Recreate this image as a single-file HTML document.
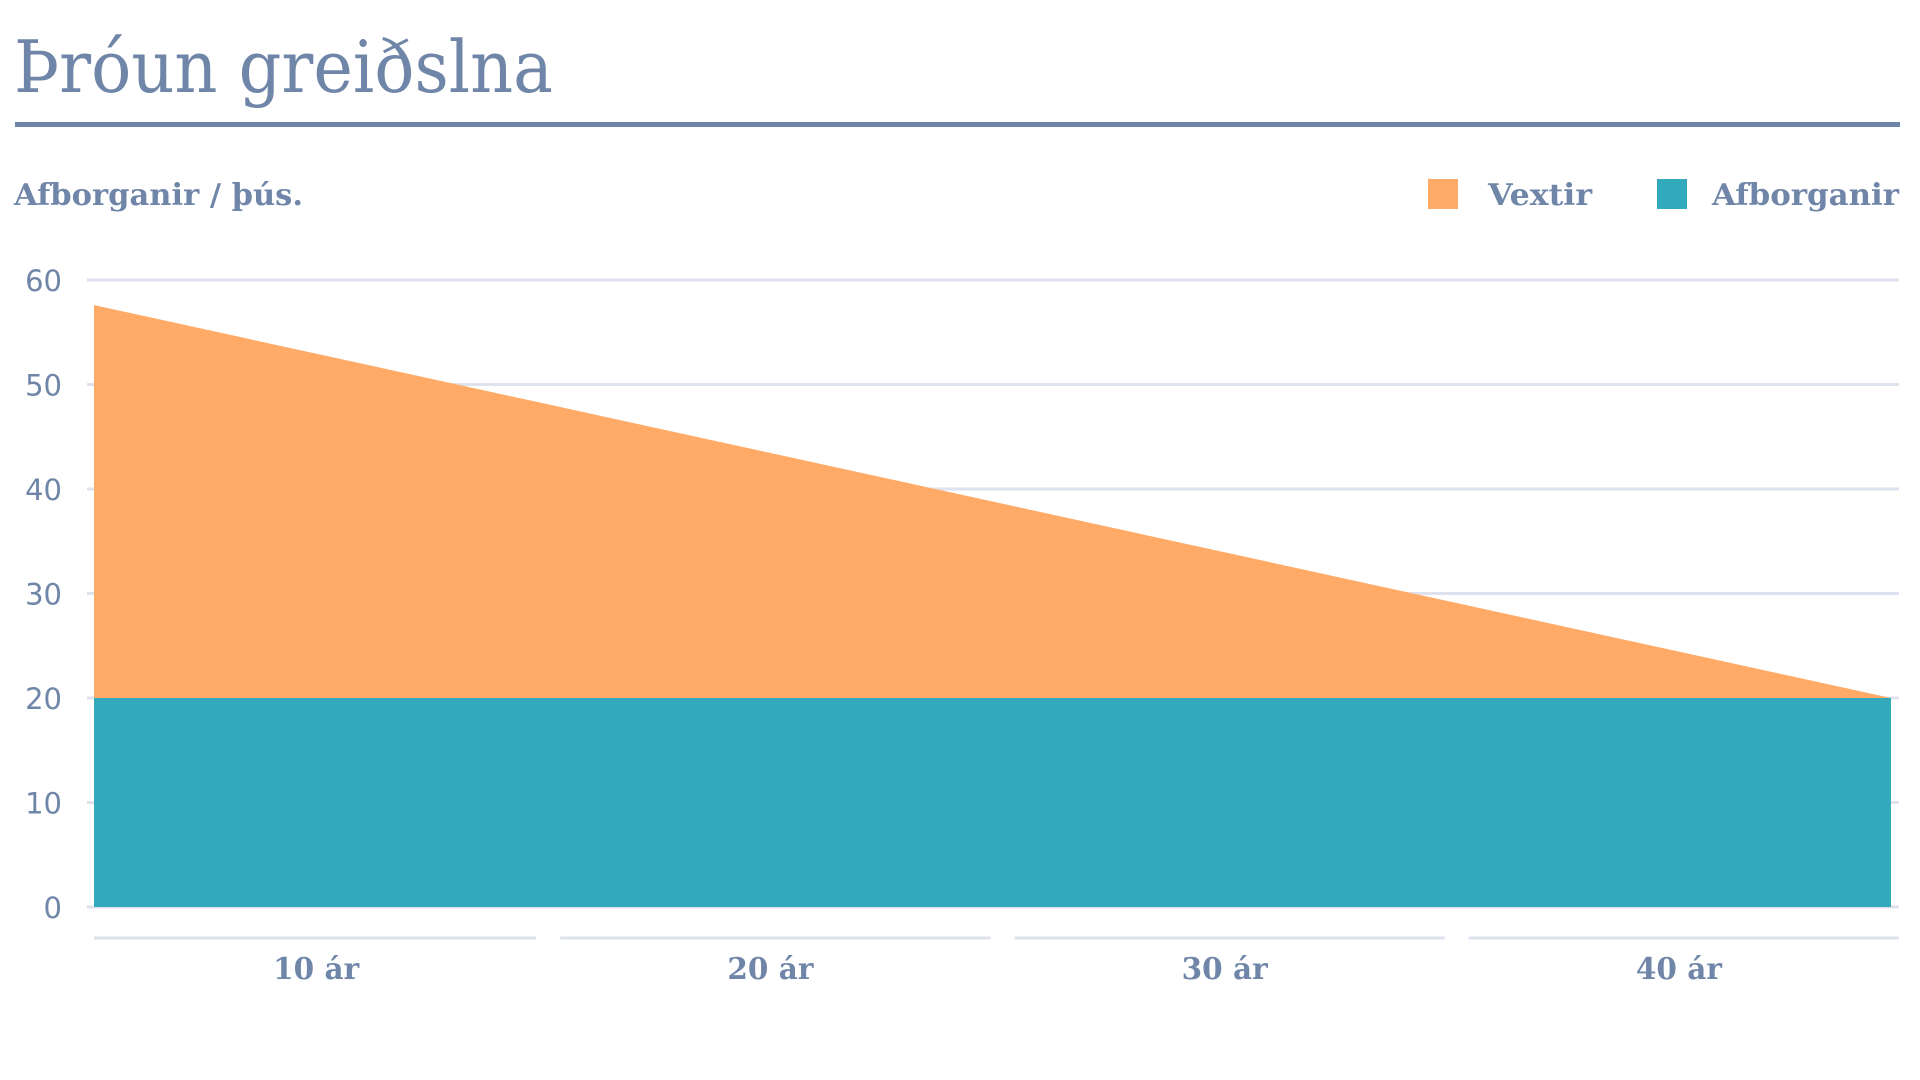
<!DOCTYPE html>
<html><head><meta charset="utf-8"><style>
html,body{margin:0;padding:0;background:#fff;width:1920px;height:1080px;overflow:hidden}
svg{display:block}
</style></head><body>
<svg id="chart" width="1920" height="1080">
<text x="14" y="92" font-family="DejaVu Serif, serif" font-size="72" fill="#6f86a8" textLength="539" lengthAdjust="spacingAndGlyphs">Þróun greiðslna</text>
<rect x="15" y="122" width="1885" height="5" fill="#6f86a8"/>
<text x="14" y="205" font-family="DejaVu Serif, serif" font-weight="bold" font-size="30" fill="#6f86a8" textLength="289" lengthAdjust="spacingAndGlyphs">Afborganir / þús.</text>
<g>
<g><rect x="1428" y="179" width="30" height="30" fill="#ffaa66"/><text x="1488" y="205" font-family="DejaVu Serif, serif" font-weight="bold" font-size="30" fill="#6f86a8" textLength="104" lengthAdjust="spacingAndGlyphs">Vextir</text></g>
<g><rect x="1657" y="179" width="30" height="30" fill="#33aabb"/><text x="1712" y="205" font-family="DejaVu Serif, serif" font-weight="bold" font-size="30" fill="#6f86a8" textLength="187" lengthAdjust="spacingAndGlyphs">Afborganir</text></g>
</g>
<g id="grid"></g><g id="areas"></g><g id="xaxis"></g>
</svg>
<script>
const years = [0, 10, 20, 30, 40];
const vextir = [37.6, 28.2, 18.8, 9.4, 0];
const afborganir = [20, 20, 20, 20, 20];
const yTicks = [0, 10, 20, 30, 40, 50, 60];
const xLabels = ["10 ár", "20 ár", "30 ár", "40 ár"];

const NS = "http://www.w3.org/2000/svg";
const X0 = 94, X1 = 1891, Y0 = 907, Y60 = 280;
const xs = v => X0 + (v - years[0]) / (years[years.length-1] - years[0]) * (X1 - X0);
const ys = v => Y0 - v / 60 * (Y0 - Y60);
function mk(tag, attrs, parent){const e=document.createElementNS(NS,tag);for(const k in attrs)e.setAttribute(k,attrs[k]);parent.appendChild(e);return e;}
const grid=document.getElementById('grid');
yTicks.forEach(t=>{
  const l=mk('line',{x1:87,x2:1899,y1:ys(t),y2:ys(t),stroke:'#dde2ee','stroke-width':3},grid);
  
  
  const tx=mk('text',{x:62,y:ys(t)+11,'text-anchor':'end','font-family':'DejaVu Sans, sans-serif','font-size':29,fill:'#6f86a8'},grid);
  tx.textContent=t;
  
  
});
const areas=document.getElementById('areas');
let dA='M'+xs(years[0])+','+ys(0);
years.forEach((y,i)=>{dA+=' L'+xs(y)+','+ys(afborganir[i]);});
dA+=' L'+xs(years[years.length-1])+','+ys(0)+' Z';
let dV='';
years.forEach((y,i)=>{dV+=(i?' L':'M')+xs(y)+','+ys(afborganir[i]+vextir[i]);});
for(let i=years.length-1;i>=0;i--)dV+=' L'+xs(years[i])+','+ys(afborganir[i]);
dV+=' Z';
const pv=mk('path',{d:dV,fill:'#ffaa66'},areas);


const pa=mk('path',{d:dA,fill:'#33aabb'},areas);


const xa=document.getElementById('xaxis');
const bandW=(1911-X0)/xLabels.length;
xLabels.forEach((lab,i)=>{
  const bx=X0+i*bandW;
  const l=mk('line',{x1:bx+(i?12:0),x2:Math.min(bx+bandW-12,1899),y1:938,y2:938,stroke:'#dde2ee','stroke-width':3},xa);
  
  
  const t=mk('text',{x:bx+bandW/2-5,y:979,'text-anchor':'middle','font-family':'DejaVu Serif, serif','font-weight':'bold','font-size':30,fill:'#6f86a8',textLength:86,lengthAdjust:'spacingAndGlyphs'},xa);
  t.textContent=lab;
  
  
});
</script>
</body></html>
